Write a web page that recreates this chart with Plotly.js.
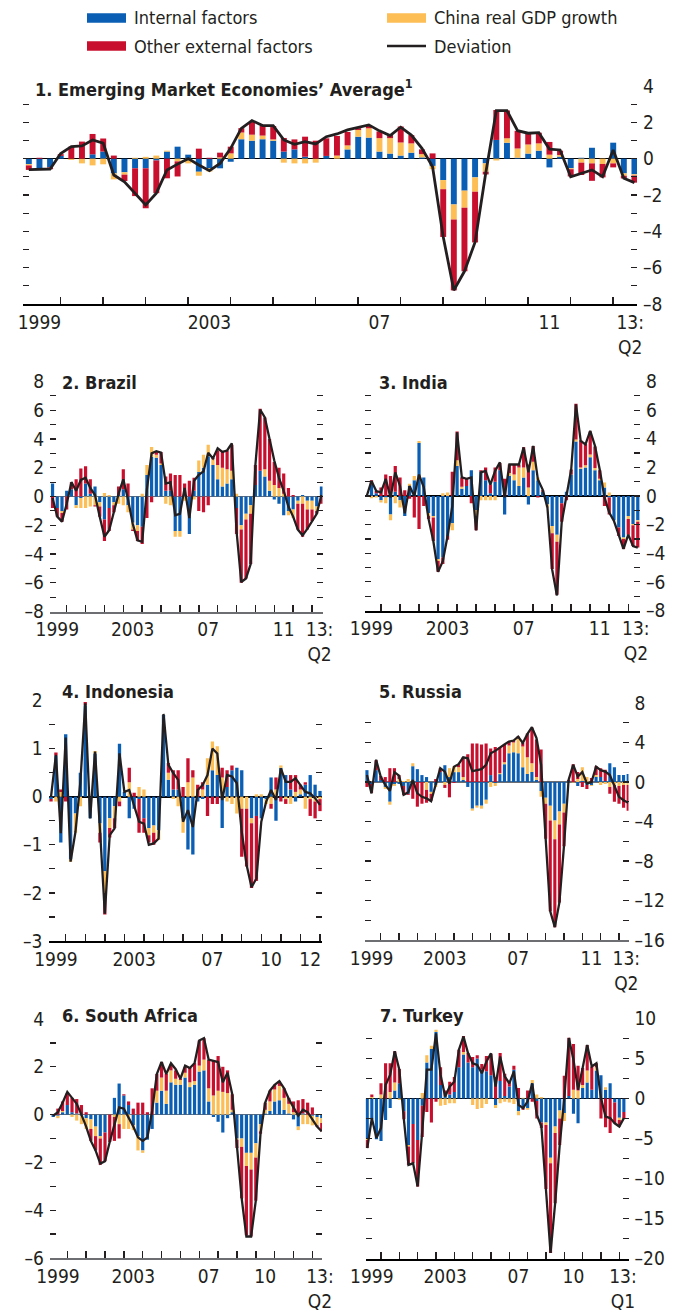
<!DOCTYPE html>
<html><head><meta charset="utf-8">
<script src="https://cdn.plot.ly/plotly-3.0.1.min.js"></script>
<style>html,body{margin:0;padding:0;background:#fff}#chart{width:685px;height:1310px}</style>
</head><body><div id="chart"></div>
<script>
// ---------------- DATA ----------------
// Panel 1: Emerging Market Economies' Average (1999Q1-2013Q2)
const emeInternal = [-0.3,-0.53,-0.48,0.15,0,0,0.24,0.39,-0.81,-0.75, -0.53,-0.53,-0.1,0.39,0.66,0.22,-0.72,-0.53,-0.53,-0.17, 1.07,0.99,1.07,0.99,0.39,0.51,0.11,0,0.15,0, 0.51,1.21,1.16,0.39,0.28,0.17,0.33,0.07,-0.4,-1.18, -2.52,-1.76,-1.03,-0.26,1.03,0.88,0.05,0.28,0.44,-0.48, 0.11,-0.53,0.05,0.6,0,0.88,-0.81,-0.86];
const emeChina    = [-0.07,0,0,0,-0.07,-0.26,-0.37,-0.31,-0.33,-0.13, 0.05,0.1,0.17,0.05,-0.15,-0.26,-0.22,-0.18,0.07,0.29, 0.37,0.33,0.2,0.07,-0.22,-0.26,-0.26,-0.22,0,0.17, 0.22,0.37,0.51,0.74,0.85,0.72,0.51,0.18,-0.18,-0.5, -0.83,-0.94,-0.79,-0.46,-0.1,0.24,0.51,0.5,0.4,0.22, 0.09,-0.05,-0.22,-0.26,-0.29,-0.26,-0.13,-0.07];
const emeOther    = [-0.25,0.05,-0.1,0.1,0.66,0.94,1.12,0.72,0.17,-0.35, -1.53,-2.2,-1.8,-1.08,-0.83,0,0.55,0.05,0.26,0.37, 0.24,0.75,0.53,0.74,0.75,0.55,1.1,0.99,0.97,1.08, 0.74,0.1,0.13,0.37,0.18,0.88,0.46,0.26,0.29,-2.63, -3.9,-3.5,-2.79,-0.15,1.65,1.53,0.97,0.59,0.59,0.7, 0.24,-0.4,-0.68,-0.96,-0.74,-0.22,-0.15,-0.39];
const emeDeviation= [-0.6,-0.6,-0.57,0.28,0.66,0.7,1.03,0.85,-0.9,-1.27, -1.9,-2.55,-1.9,-0.62,-0.3,0,-0.35,-0.66,-0.26,0.57, 1.67,2.1,1.82,1.82,1.03,0.79,0.94,0.81,1.21,1.36, 1.58,1.71,1.86,1.53,1.27,1.73,1.3,0.57,-0.45,-4.3, -7.24,-6.2,-4.6,-0.8,2.65,2.65,1.54,1.4,1.43,0.53, 0.48,-1.0,-0.8,-0.62,-0.99,0.48,-1.08,-1.32];

// Panel 2: Brazil (1999Q1-2013Q2)
const brazilInternal = [0.9,-0.8,-1.0,0.4,0.5,-0.6,-0.1,0.9,0.2,0.7, -0.4,-1.6,-0.8,-0.4,0.1,0.5,-0.6,-1.8,-2.0,-2.1, 1.5,2.75,2.7,2.2,0.4,0.4,-2.4,-2.4,0.2,-2.6, 0.4,1.7,2.0,2.8,2.2,1.2,0.7,0.9,1.2,-0.8, -2.0,-1.2,-0.6,0.8,1.8,1.4,0.4,-0.2,-0.5,-1.3, -1.0,-0.9,-0.3,0.1,-0.3,-0.3,-0.7,0.7];
const brazilChina    = [0,0,-0.15,0,0,-0.2,-0.7,-0.8,-0.7,-0.6, -0.3,0.25,0.1,-0.2,-0.5,-0.6,-0.5,-0.5,-0.4,0.2, 0.7,0.7,0.2,0.1,-0.5,-0.6,-0.4,-0.4,-0.3,0, -0.2,0.8,0.9,0.8,0.4,1.0,1.3,1.0,0.6,0.2, -0.3,-0.4,-0.6,0,0,0.5,0.7,0.8,0.6,0.2, -0.3,-0.6,-0.2,-0.5,-0.6,-0.6,-0.3,0];
const brazilOther    = [-0.8,-0.6,-0.6,-0.9,0.5,1.2,1.95,1.2,1.0,-0.1, -0.7,-1.5,-1.6,-0.5,0.6,1.4,0.9,-0.1,-0.7,-1.2, -1.5,-0.4,0.25,0.8,1.0,1.2,1.5,1.5,0.7,1.1, 0.9,-1.0,-1.1,-0.6,0.1,1.0,1.1,1.3,1.8,-1.8, -3.7,-4.1,-3.5,1.4,4.3,3.6,2.9,1.6,1.4,1.4, 0.6,0.1,-1.8,-2.3,-1.4,-0.8,-0.2,-0.5];
const brazilDeviation= [-0.1,-1.4,-1.75,-0.5,1.0,0.4,1.15,1.3,0.6,0.1, -1.4,-2.8,-2.35,-1.05,0.2,1.2,-0.2,-1.9,-3.05,-3.15, 0.5,3.0,3.15,3.05,0.9,1.0,-1.3,-1.2,0.6,-1.5, 1.1,1.5,1.75,3.05,2.65,3.35,3.1,3.2,3.7,-2.4, -5.95,-5.7,-4.7,2.2,6.05,5.5,4.0,2.5,1.3,0.4, -0.7,-1.4,-2.3,-2.7,-2.25,-1.7,-1.2,0.1];

// Panel 3: India (1999Q1-2013Q2)
const indiaInternal = [0.05,0.8,0.2,-0.3,-0.1,-1.3,0.3,-0.3,-1.4,0.7, 1.1,3.7,1.3,-1.2,-1.4,-4.4,-4.3,-2.8,-1.9,2.1, 0.5,0.7,1.8,-1.0,1.7,1.1,0.2,1.0,1.8,-1.3, 1.4,1.1,0.7,1.3,-0.6,1.8,1.1,0.3,-0.6,-2.1, -2.7,-0.5,0.3,1.5,3.8,1.9,2.0,2.7,1.8,1.1, 0.6,-0.1,-1.7,-2.2,-2.9,-1.4,-1.95,-1.7];
const indiaChina    = [0,-0.15,-0.1,-0.15,-0.4,-0.4,-0.5,-0.5,0,0.15, 0.3,0.15,0,-0.2,-0.1,-0.15,0.2,0.25,-0.5,0.4, 0.15,0,0,-0.4,-0.3,-0.3,-0.3,-0.3,0,0, 0.2,0.4,1.3,0.7,0.6,0.6,0.2,0,-0.2,-0.5, -0.5,0,0,0,0.15,0.1,0.15,0.2,0.15,0.1, 0.35,0.25,0,0,-0.1,-0.2,-0.1,-0.1];
const indiaOther    = [0,0.3,0.15,0.6,1.5,1.4,1.8,1.3,0.4,-0.2, -1.5,-2.3,-0.7,-0.2,-1.65,-0.75,-0.45,-0.25,1.7,2.0, 0.65,0.5,-0.5,-1.0,0.1,0.9,0.6,1.0,0.5,1.2, 0.6,0.7,0.2,1.4,1.6,1.1,-0.1,0.1,0,-2.5, -3.7,-1.3,-0.3,0.35,2.5,1.9,1.5,1.6,1.5,0.6, -0.7,-1.2,0,-0.6,-0.7,-1.1,-1.45,-1.8];
const indiaDeviation= [0,1.05,0.35,0.25,1.2,-0.1,1.65,0.7,-1.2,0.7, 0,1.5,0.6,-1.6,-3.15,-5.3,-4.55,-2.8,-0.7,4.45, 1.3,1.2,1.3,-2.4,1.65,1.75,0.8,1.75,2.35,-0.1, 2.2,2.2,2.2,3.4,1.65,3.5,1.15,0.45,-0.8,-5.15, -6.95,-1.85,0,1.85,6.4,3.85,3.6,4.55,3.5,1.85, -0.1,-1.15,-1.75,-2.8,-3.7,-2.7,-3.5,-3.6];

// Panel 4: Indonesia (1999Q1-2012Q4)
const indonesiaInternal = [-0.05,0.85,-0.95,1.3,-1.3,-0.35,0.5,1.9,-0.45,0.9, -0.55,-1.55,-0.45,-0.2,1.1,0.1,-0.45,-0.25,-0.05,-0.45, -0.65,-0.6,-0.7,1.7,0.35,0.15,0.15,-0.45,-1.1,-1.2, -0.1,-0.05,0.25,0.55,0.45,-0.65,0.2,0.55,0.6,0.55, 0,-0.45,-0.4,-0.45,-0.05,0.4,-0.5,0.6,0.45,0.15, -0.1,0.05,0.25,0.45,0.25,0.12];
const indonesiaChina    = [0,-0.1,0.1,0,-0.05,-0.4,-0.2,0,0,0.05, -0.2,-0.45,-0.2,-0.25,-0.1,0,0.3,0,0.2,0.15, -0.15,-0.15,-0.2,0,0.15,-0.05,-0.2,-0.3,0.3,0.4, 0,0.15,0.55,0.6,0.6,0.4,-0.1,-0.15,-0.35,-0.25, -0.25,-0.1,0.05,0.05,-0.1,-0.15,0.15,0.05,-0.05,-0.15, 0.1,0.1,-0.25,-0.05,-0.1,-0.05];
const indonesiaOther    = [-0.05,0.07,0.05,-0.1,0,0,0,0.07,0,0, -0.2,-0.45,-0.2,-0.2,-0.1,0,0.3,0.08,-0.7,-0.3, -0.15,-0.25,0,0,0.2,0.4,0.4,0.2,0.5,0.15, 0.25,0.15,-0.4,-0.15,-0.15,0.2,0.35,0.1,0,-1.0, -1.2,-1.35,-1.35,0,0,-0.1,0.25,-0.1,-0.1,0.3, 0.35,0.1,0.05,-0.35,-0.35,-0.25];
const indonesiaDeviation= [0,0.87,-0.76,1.23,-1.35,-0.73,0.31,1.94,-0.45,0.94, -0.66,-2.43,-0.8,-0.66,0.9,0.1,0.14,-0.17,-0.52,-0.56, -1.0,-0.97,-0.87,1.72,0.66,0.49,0.35,-0.52,-0.28,-0.63, 0.14,0.24,0.45,1.0,0.9,-0.07,0.45,0.42,0.28,-0.73, -1.42,-1.88,-1.7,-0.52,-0.1,0.14,-0.07,0.59,0.31,0.31, 0.38,0.24,0.1,0.07,-0.03,-0.17];

// Panel 5: Russia (1999Q1-2013Q2)
const russiaInternal = [1.2,-0.2,1.2,0.2,-0.5,-2.0,-0.2,-0.2,-0.4,-1.2, 1.6,1.3,0.7,0.5,-1.0,-0.3,1.0,1.7,0.5,1.0, 1.0,0.2,-0.5,-2.7,-2.4,-2.4,-1.8,0.7,-0.1,0.8, 1.8,2.9,3.0,2.9,1.5,0.8,1.0,0.2,-0.9,-1.6, -2.4,-3.9,-3.0,-2.2,0.1,0,-0.4,0.1,-0.3,-0.3, 0.5,0.5,0.1,1.9,1.5,0.7,0.7,0.8];
const russiaChina    = [0,0,0,0,-0.2,-0.3,-0.2,0.3,0.1,0.3, 0.3,0,0,-0.8,-0.2,-0.2,0,-0.3,0.9,0.6, 0.5,0.3,0,-0.2,-0.2,-0.3,-0.4,-0.5,-0.3,0.1, 0.2,0.8,1.0,1.5,2.1,1.7,0.9,0.3,-0.6,-0.6, -1.5,-1.9,-1.3,-0.9,0,-0.05,0.3,1.4,0.5,-0.1, 0.2,-0.3,-0.2,-0.5,-0.3,-0.4,-0.3,-0.3];
const russiaOther    = [-0.5,-0.9,1.0,0.4,0.5,1.4,1.4,0.4,-0.9,-0.1, -1.7,-2.5,-2.2,-1.3,-0.7,0.3,0.4,-0.3,-1.55,-0.1, 0.3,2.0,2.8,3.9,3.9,3.8,3.9,2.7,3.55,2.6, 1.8,0.4,0.2,0.2,0.35,2.4,3.6,3.8,3.3,-3.55, -9.2,-8.9,-7.9,-3.4,0.1,1.8,0.7,-0.5,-0.4,0.4, 0.9,0.9,1.15,-0.7,-1.7,-1.8,-2.3,-2.6];
const russiaDeviation= [0.7,-1.15,2.25,0.55,-0.3,-0.9,1.0,0.65,-1.3,-1.05, 0.2,-1.15,-1.5,-1.65,-1.95,-0.3,1.4,1.05,-0.15,1.55, 1.8,2.5,2.4,1.1,1.2,1.3,1.75,2.9,3.15,3.5, 3.8,4.1,4.2,4.6,3.95,4.85,5.55,4.45,1.75,-5.75, -13.1,-14.7,-12.2,-6.45,0.2,1.75,0.55,1.0,-0.15,0, 1.55,1.2,1.05,0.7,-0.5,-1.5,-1.85,-2.1];

// Panel 6: South Africa (1999Q1-2013Q2)
const safricaInternal = [-0.1,-0.05,0.1,0.4,0.1,0.05,-0.05,-0.15,-0.2,-0.5, -0.9,-0.75,0,0.7,1.3,0.8,0.4,-0.45,-0.9,-1.5, -1.05,-0.6,0.5,1.0,0.45,1.35,1.25,1.25,1.55,1.15, 1.25,1.8,1.85,0.55,-0.1,-0.3,-0.75,-0.15,0.1,-1.0, -1.0,-1.6,-1.6,-1.2,-0.4,0.05,0.15,0.55,0.6,0.2, 0.05,-0.2,-0.5,0.05,0,-0.05,-0.1,-0.15];
const safricaChina    = [0,-0.1,0.05,0,-0.1,-0.25,-0.35,-0.45,-0.4,-0.4, -0.1,0,0,-0.1,-0.4,-0.6,-0.6,-0.2,-0.6,-0.1, 0,0,0.5,0.55,0.55,0.5,0.25,0.2,0.2,0.2, 0.15,0.25,0.45,0.55,0.8,1.0,0.95,0.9,0.1,-0.05, -0.35,-0.55,-0.7,-0.6,-0.3,0.15,0.4,0.5,0.6,0.5, 0.4,0.1,-0.15,-0.4,-0.4,-0.4,-0.35,-0.2];
const safricaOther    = [0,0.25,0.4,0.5,0.6,0.6,0.4,0.1,-0.5,-0.6, -1.1,-1.2,-1.15,-1.0,-0.6,0.05,0.15,0.25,0.5,0.5, 0.1,1.1,0.7,0.65,0.7,0.25,0.35,0.05,0.25,0.6, 0.75,1.05,0.9,1.2,1.45,1.45,1.05,0.95,0.65,-0.35, -2.15,-2.9,-2.8,-1.8,-0.1,0.3,0.45,0.2,0.2,0.4, 0.25,0.45,0.6,0.6,0.5,0.3,-0.05,-0.35];
const safricaDeviation= [-0.05,0.1,0.5,0.95,0.7,0.45,0,-0.5,-1.1,-1.5, -2.05,-1.95,-1.15,-0.4,0.3,0.25,-0.1,-0.5,-0.95,-1.1, -0.95,0.15,1.7,2.2,1.7,2.15,1.9,1.5,2.05,1.95, 2.15,3.1,3.2,2.3,2.25,2.2,1.35,1.75,0.85,-1.4, -3.5,-5.1,-5.1,-3.6,-0.8,0.5,1.0,1.25,1.4,1.1, 0.65,0.3,-0.05,0.2,0.1,-0.2,-0.5,-0.7];

// Panel 7: Turkey (1999Q1-2013Q1)
const turkeyInternal = [-5.0,-2.6,-5.1,-5.3,-2.7,-1.2,1.0,1.9,-1.6,-5.8, -3.2,-5.2,-0.9,4.5,6.2,8.3,1.7,0.3,0.5,0.8, 3.9,5.5,4.5,3.9,5.0,3.6,3.4,2.9,-0.8,2.2, 0.3,1.5,3.6,-1.6,-1.2,-1.2,1.9,-0.3,-3.0,-3.0, -7.4,-3.5,-1.5,-1.8,0.3,-1.9,-3.1,1.3,2.0,1.1, 3.5,2.9,1.1,1.9,-0.5,-2.4,-1.7];
const turkeyChina    = [-0.2,0.2,0,0.5,0,0.8,1.0,-0.2,0,-0.2, 0,0,0.7,0.9,0.4,0.3,-0.9,-0.8,-0.6,-0.6, 0,0.3,0,-0.8,-1.3,-1.2,-0.7,0,-0.4,-0.6, -0.4,-0.5,-0.7,-0.5,0.1,-0.2,0.4,0.5,0.2,-0.3, -0.7,-0.8,-1.0,-1.0,0,1.1,1.0,0.4,1.5,0, 0.4,0,0.3,0,0,-0.3,0];
const turkeyOther    = [-1.0,0.3,0,1.4,4.4,3.6,3.9,1.8,-1.0,-2.3, -4.9,-5.8,-3.9,-1.7,-3.0,-0.4,2.2,0.7,1.6,1.9, 2.2,2.0,1.2,1.3,0.4,0.7,1.9,2.7,2.7,3.5, 2.8,0.7,0.5,1.3,-0.2,1.0,-0.4,-2.2,-0.7,-8.0, -11.2,-8.8,-3.3,2.85,7.3,5.7,3.1,2.1,3.2,2.9, 0.5,-2.5,-3.6,-4.3,-2.6,-0.8,-0.8];
const turkeyDeviation= [-6.2,-2.45,-4.95,-3.7,1.7,2.95,5.9,3.6,-2.65,-8.3, -8.1,-11.0,-4.1,3.6,3.6,8.15,2.95,0.25,1.5,2.1, 6.1,7.75,5.65,4.4,4.2,3.15,4.6,5.65,1.5,5.25, 2.75,1.9,3.4,-0.8,-1.2,-0.35,1.9,-2.05,-3.5,-11.2, -19.3,-13.1,-5.8,0.05,7.55,4.85,1.1,3.8,6.7,4.0, 4.4,0.05,-2.25,-2.45,-3.1,-3.5,-2.45];

// Tick labels
const xLabelsQ2   = ['1999','2003','07','11','13:<br>Q2'];
const xLabelsIdn  = ['1999','2003','07','10','12'];
const xLabelsSaf  = ['1999','2003','07','10','13:<br>Q2'];
const xLabelsTur  = ['1999','2003','07','10','13:<br>Q1'];
const seriesNames = ['Internal factors','China real GDP growth','Other external factors','Deviation'];

// ---------------- STYLE / LAYOUT ----------------
const W = 685, H = 1310;
const FONT = 'DejaVu Sans Condensed, Liberation Sans Narrow, sans-serif';
const C = {blue:'#0a5eb4', yellow:'#fcbe55', red:'#c8102e', line:'#231f20'};

function quarterLabels(start, n){
  let y = +start.slice(0,4), q = +start.slice(5); const out=[];
  for(let i=0;i<n;i++){ out.push(y+'Q'+q); q++; if(q>4){q=1;y++;} }
  return out;
}
function qPos(label){ return +label.slice(0,4) + (+label.slice(5))/4; } // quarter-end position

const panels = [
 {title:'1. Emerging Market Economies’ Average<sup>1</sup>', d:[emeInternal,emeChina,emeOther,emeDeviation],
  px:[23,637], py:[86,304], x2000:60.7, ppy:42.5, yr:[-8,4], ystep:1, ylab:2, side:'right', barw:0.14, lw:2.8,
  xl:xLabelsQ2, xlPos:[1999.5,2003.5,2007.5,2011.5,2013.4], t:[33,88], axc:'#000'},
 {title:'2. Brazil', d:[brazilInternal,brazilChina,brazilOther,brazilDeviation],
  px:[50,322.5], py:[381.5,611.5], x2000:66.7, ppy:18.87, yr:[-8,8], ystep:1, ylab:2, side:'left', barw:0.17, lw:2.3,
  xl:xLabelsQ2, xlPos:[1999.5,2003.5,2007.5,2011.5,2013.4], t:[60,383], axc:'#6d6e71'},
 {title:'3. India', d:[indiaInternal,indiaChina,indiaOther,indiaDeviation],
  px:[365,640], py:[381.5,610.5], x2000:381, ppy:19.02, yr:[-8,8], ystep:1, ylab:2, side:'right', barw:0.17, lw:2.3,
  xl:xLabelsQ2, xlPos:[1999.5,2003.5,2007.5,2011.5,2013.4], t:[377,383], axc:'#000'},
 {title:'4. Indonesia', d:[indonesiaInternal,indonesiaChina,indonesiaOther,indonesiaDeviation],
  px:[48.5,322], py:[700.5,941], x2000:65.7, ppy:19.56, yr:[-3,2], ystep:0.5, ylab:1, side:'left', barw:0.17, lw:2.3,
  xl:xLabelsIdn, xlPos:[1999.5,2003.5,2007.5,2010.5,2012.5], t:[60,692], axc:'#000'},
 {title:'5. Russia', d:[russiaInternal,russiaChina,russiaOther,russiaDeviation],
  px:[365,628.5], py:[703,940], x2000:380.7, ppy:18.33, yr:[-16,8], ystep:2, ylab:4, side:'right', barw:0.17, lw:2.3,
  xl:xLabelsQ2, xlPos:[1999.5,2003.5,2007.5,2011.5,2013.4], t:[377,692], axc:'#6d6e71'},
 {title:'6. South Africa', d:[safricaInternal,safricaChina,safricaOther,safricaDeviation],
  px:[50,322], py:[1019,1258], x2000:67.3, ppy:18.85, yr:[-6,4], ystep:1, ylab:2, side:'left', barw:0.17, lw:2.3,
  xl:xLabelsSaf, xlPos:[1999.5,2003.5,2007.5,2010.5,2013.4], t:[60,1015], axc:'#6d6e71'},
 {title:'7. Turkey', d:[turkeyInternal,turkeyChina,turkeyOther,turkeyDeviation],
  px:[365.5,628.5], py:[1018.5,1258.5], x2000:381, ppy:18.33, yr:[-20,10], ystep:2.5, ylab:5, side:'right', barw:0.17, lw:2.3,
  xl:xLabelsTur, xlPos:[1999.5,2003.5,2007.5,2010.5,2013.2], t:[378,1015], axc:'#000'}
];

function fmt(v){ return v<0 ? '–'+Math.abs(v) : String(v); }
function yTicks(lo,hi,step,lab){
  const vals=[],text=[]; const n=Math.round((hi-lo)/step);
  for(let i=0;i<=n;i++){ const v=+(lo+i*step).toFixed(4); vals.push(v);
    const r=v/lab; text.push(Math.abs(r-Math.round(r))<1e-6 ? fmt(v) : ' '); }
  return {vals,text};
}

const traces=[], layout={
  width:W, height:H, margin:{l:0,r:0,t:0,b:0}, paper_bgcolor:'#fff', plot_bgcolor:'rgba(0,0,0,0)',
  barmode:'relative', showlegend:false, font:{family:FONT, size:19, color:'#231f20'},
  annotations:[], shapes:[]
};

panels.forEach((p,i)=>{
  const n = p.d[0].length;
  const q = quarterLabels('1999Q1', n);
  const x = q.map(qPos);
  const xa = i===0?'x':'x'+(i+1), ya = i===0?'y':'y'+(i+1);
  const cols=[C.blue,C.yellow,C.red];
  for(let s=0;s<3;s++){
    traces.push({type:'bar', x:x, y:p.d[s], width:p.barw, name:seriesNames[s], xaxis:xa, yaxis:ya,
      marker:{color:cols[s], line:{width:0}}, hoverinfo:'skip'});
  }
  traces.push({type:'scatter', mode:'lines', x:x, y:p.d[3], name:seriesNames[3], xaxis:xa, yaxis:ya,
    line:{color:C.line, width:p.lw}, hoverinfo:'skip'});

  const xr=[2000-(p.x2000-p.px[0])/p.ppy, 2000+(p.px[1]-p.x2000)/p.ppy];
  const lastYear = Math.floor(xr[1]);
  const years=[]; for(let yv=2000; yv<=lastYear; yv++) years.push(yv);
  const yt = yTicks(p.yr[0],p.yr[1],p.ystep,p.ylab);
  layout['xaxis'+(i===0?'':i+1)] = {
    domain:[p.px[0]/W, p.px[1]/W], range:xr, anchor:ya, showgrid:false, zeroline:false,
    showline:true, linecolor:p.axc, linewidth:2, ticks:'', tickmode:'array', tickvals:p.xlPos, ticktext:p.xl,
    tickfont:{size:19, family:FONT, color:'#231f20'}, automargin:false, fixedrange:true,
    minor:{tickmode:'array', tickvals:years, ticks:'inside', ticklen:7, tickwidth:1.5, tickcolor:'#231f20', showgrid:false}
  };
  layout['yaxis'+(i===0?'':i+1)] = {
    domain:[1-p.py[1]/H, 1-p.py[0]/H], range:p.yr, anchor:xa, side:p.side, showgrid:false,
    zeroline:true, zerolinecolor:p.axc, zerolinewidth:1.6, showline:false, mirror:'ticks',
    ticks:'inside', ticklen:6, tickwidth:1.2, tickcolor:'#231f20', tickmode:'array', tickvals:yt.vals, ticktext:yt.text,
    tickfont:{size:19, family:FONT, color:'#231f20'}, ticklabelstandoff:5, automargin:false, fixedrange:true
  };
  layout.annotations.push({xref:'paper', yref:'paper', x:p.t[0]/W, y:1-p.t[1]/H, xanchor:'left', yanchor:'middle',
    text:'<b>'+p.title+'</b>', showarrow:false, font:{size:18, family:FONT, color:'#231f20'}});
});

// Legend (drawn manually)
const legendItems = [
  {name:seriesNames[0], color:C.blue, kind:'bar', pos:[87,18]},
  {name:seriesNames[2], color:C.red, kind:'bar', pos:[87,46]},
  {name:seriesNames[1], color:C.yellow, kind:'bar', pos:[387,18]},
  {name:seriesNames[3], color:C.line, kind:'line', pos:[387,46]}
];
legendItems.forEach(it=>{
  const x0=it.pos[0], yc=it.pos[1];
  if(it.kind==='bar'){
    layout.shapes.push({type:'rect', xref:'paper', yref:'paper', x0:x0/W, x1:(x0+39)/W, y0:1-(yc+4.7)/H, y1:1-(yc-4.7)/H,
      fillcolor:it.color, line:{width:0}});
  } else {
    layout.shapes.push({type:'line', xref:'paper', yref:'paper', x0:x0/W, x1:(x0+39)/W, y0:1-yc/H, y1:1-yc/H,
      line:{color:it.color, width:2.5}});
  }
  layout.annotations.push({xref:'paper', yref:'paper', x:(x0+45)/W, y:1-yc/H, xanchor:'left', yanchor:'middle',
    text:it.name, showarrow:false, font:{size:18, family:FONT, color:'#231f20'}});
});

Plotly.newPlot('chart', traces, layout, {staticPlot:true, displayModeBar:false});
</script>
</body></html>
